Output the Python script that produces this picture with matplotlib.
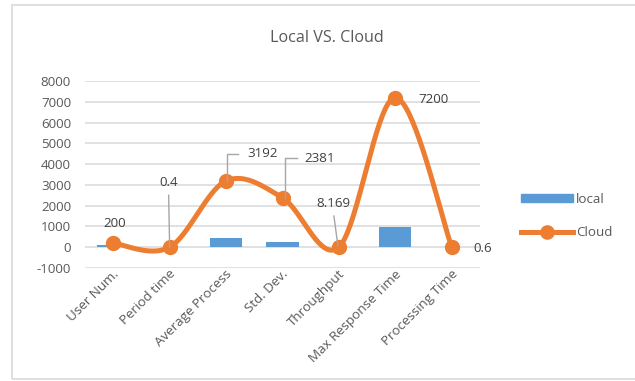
import numpy as np
import matplotlib
matplotlib.use("Agg")
import matplotlib.pyplot as plt
import matplotlib.transforms as mtrans
from matplotlib.transforms import offset_copy
from matplotlib.patches import Rectangle
from matplotlib.lines import Line2D

categories = ["User Num.", "Period time", "Average Process", "Std. Dev.",
              "Throughput", "Max Response Time", "Processing Time"]
local_vals = [90, 0.2, 420, 270, 4, 980, 0.3]
cloud_vals = [200, 0.4, 3192, 2381, 8.169, 7200, 0.6]
cloud_labels = ["200", "0.4", "3192", "2381", "8.169", "7200", "0.6"]
yticks = [-1000, 0, 1000, 2000, 3000, 4000, 5000, 6000, 7000, 8000]

BLUE = "#5b9bd5"
ORANGE = "#ed7d31"
TXT = "#595959"
GRID = "#d9d9d9"
LEADER = "#a6a6a6"
FONT = "Open Sans"

plt.rcParams["font.family"] = [FONT, "DejaVu Sans"]

W, H, DPI = 635, 381, 100
fig = plt.figure(figsize=(W / DPI, H / DPI), dpi=DPI)

# chart-area frame
fig.add_artist(Rectangle((12 / W, 1 - 379 / H), (W + 10 - 12) / W, (379 - 5) / H,
                         transform=fig.transFigure, fill=False,
                         edgecolor=GRID, linewidth=1.2))

left, right, top, bottom = 85, 480, 81, 268
ax = fig.add_axes([left / W, 1 - bottom / H, (right - left) / W, (bottom - top) / H])

x = np.arange(len(categories))
ax.bar(x, local_vals, width=0.57, color=BLUE, zorder=2, label="local")


def smooth_curve(xs, ys, n=40):
    """Cardinal (Catmull-Rom style) spline through the points."""
    xs = np.asarray(xs, float)
    ys = np.asarray(ys, float)
    px, py = [], []
    for i in range(len(xs) - 1):
        i0, i3 = max(i - 1, 0), min(i + 2, len(xs) - 1)
        p0 = np.array([xs[i], ys[i]])
        p3 = np.array([xs[i + 1], ys[i + 1]])
        c1 = p0 + (p3 - np.array([xs[i0], ys[i0]])) / 6
        c2 = p3 - (np.array([xs[i3], ys[i3]]) - p0) / 6
        t = np.linspace(0, 1, n)[:, None]
        seg = ((1 - t) ** 3) * p0 + 3 * ((1 - t) ** 2) * t * c1 \
            + 3 * (1 - t) * t ** 2 * c2 + t ** 3 * p3
        if i > 0:
            seg = seg[1:]
        px.extend(seg[:, 0])
        py.extend(seg[:, 1])
    return np.array(px), np.array(py)


sx, sy = smooth_curve(x, cloud_vals)
ax.plot(sx, sy, color=ORANGE, linewidth=3.6, solid_capstyle="round", zorder=3)
ax.plot(x, cloud_vals, linestyle="none", marker="o", markersize=10,
        color=ORANGE, zorder=4)

ax.set_xlim(-0.5, len(categories) - 0.5)
ax.set_ylim(yticks[0], yticks[-1])
ax.set_yticks(yticks)
ax.set_yticklabels([str(v) for v in yticks])
ax.grid(axis="y", color=GRID, linewidth=1.1, zorder=0)
ax.set_axisbelow(True)
for s in ax.spines.values():
    s.set_visible(False)
ax.tick_params(axis="both", length=0, labelsize=9.6, labelcolor=TXT)
ax.tick_params(axis="y", pad=10)
ax.tick_params(axis="x", pad=0)
ax.set_xticks(x)
ax.set_xticklabels(categories, rotation=45, ha="right", va="center",
                   rotation_mode="anchor")
shift = mtrans.ScaledTranslation(4 / DPI, -4 / DPI, fig.dpi_scale_trans)
for lbl in ax.get_xticklabels():
    lbl.set_transform(lbl.get_transform() + shift)

fig.text(327 / W, 1 - 38 / H, "Local VS. Cloud", ha="center", va="center",
         fontsize=11.6, color=TXT)

PX = 72 / DPI  # pixel -> point

# (text dx, dy, alignment, leader path) in pixels relative to each point
label_layout = [
    ((1, 20), "center", None),
    ((-1, 65), "center", [(-1, 52), (0, 0)]),
    ((21, 27), "left", [(12, 27), (1, 27), (1, 0)]),
    ((22, 39), "left", [(14, 40), (2, 40), (2, 0)]),
    ((-5, 44), "center", [(-5, 31), (-1, 1)]),
    ((23, -2), "left", None),
    ((22, -1), "left", None),
]

for i, (val, txt) in enumerate(zip(cloud_vals, cloud_labels)):
    (dx, dy), ha, path = label_layout[i]
    tr = offset_copy(ax.transData, fig=fig, x=dx * PX, y=dy * PX, units="points")
    ax.text(x[i], val, txt, transform=tr, ha=ha, va="center",
            fontsize=9.6, color="#404040", zorder=6)
    if path:
        base = ax.transData.transform((x[i], val))
        pts = np.array([[base[0] + a, base[1] + b] for a, b in path])
        ax.plot(pts[:, 0], pts[:, 1], transform=None, color=LEADER,
                linewidth=1.0, zorder=5)

# legend
handles = [Rectangle((0, 0), 1, 1, color=BLUE),
           Line2D([0], [0], color=ORANGE, linewidth=3.6, marker="o", markersize=9.5)]
fig.legend(handles, ["local", "Cloud"], loc="center left",
           bbox_to_anchor=(509 / W, 1 - 216 / H), frameon=False,
           fontsize=9.6, labelcolor=TXT, handlelength=3.9, handleheight=0.55,
           handletextpad=0.25, labelspacing=1.55)

fig.savefig("out.png", dpi=DPI)
